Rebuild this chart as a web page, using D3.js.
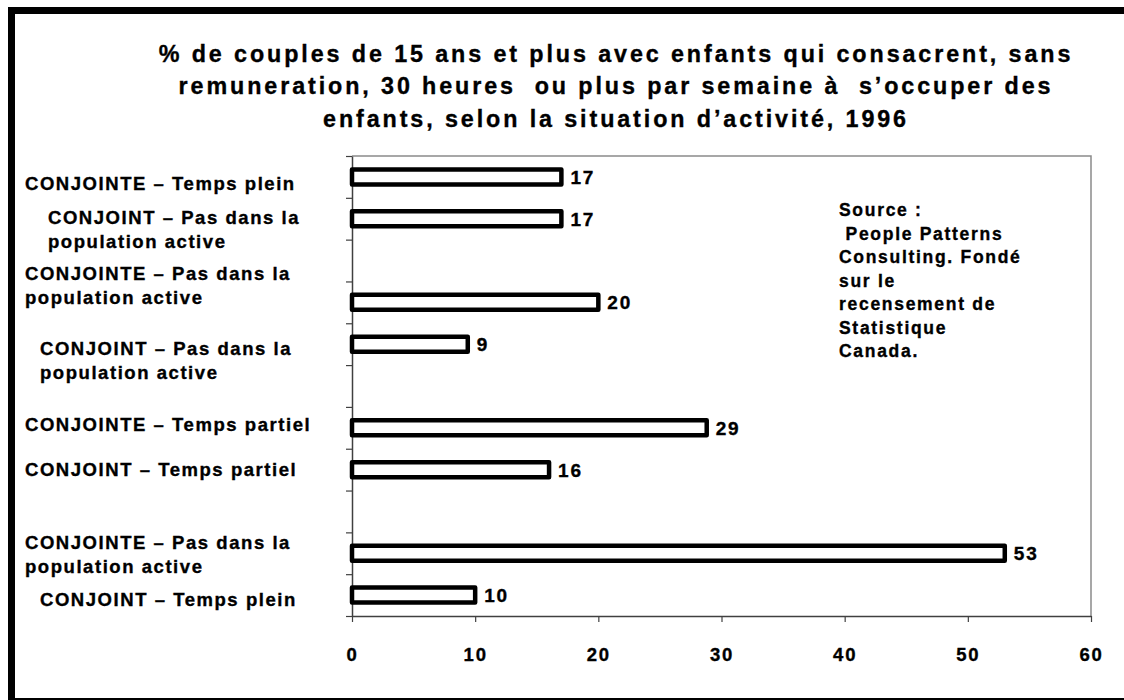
<!DOCTYPE html>
<html>
<head>
<meta charset="utf-8">
<script src="https://cdn.jsdelivr.net/npm/d3@7"></script>
<style>
	body { margin: 0; background: #fff; }
	svg text { font-family: "Liberation Sans", Arial, sans-serif; font-weight: bold; fill: #000; stroke: #000; stroke-width: 0.35px; white-space: pre; }
	.title { font-size: 23.3px; letter-spacing: 2.9px; }
	.cat { font-size: 18.5px; letter-spacing: 1.55px; }
	.value { font-size: 19px; letter-spacing: 1.8px; }
	.source { font-size: 17.5px; letter-spacing: 1.7px; }
	.x.axis text { font-size: 18.5px; letter-spacing: 1.8px; font-weight: bold; font-family: "Liberation Sans", Arial, sans-serif; }
</style>
</head>
<body>
<div id="chartDiv"></div>
<script>

/*
Data
*/
var titleLines = [
	"% de couples de 15 ans et plus avec enfants qui consacrent, sans",
	"remuneration, 30 heures  ou plus par semaine à  s’occuper des",
	"enfants, selon la situation d’activité, 1996"
];

var categories = [
	"CONJOINTE – Temps plein",
	"CONJOINT – Pas dans la|population active",
	"CONJOINTE – Pas dans la|population active",
	"CONJOINT – Pas dans la|population active",
	"CONJOINTE – Temps partiel",
	"CONJOINT – Temps partiel",
	"CONJOINTE – Pas dans la|population active",
	"CONJOINT – Temps plein"
];

var values = [17, 17, 20, 9.4, 28.8, 16, 53, 10];

// an empty row follows these bars
var gapAfter = [1, 3, 5];

var xTicks = [0, 10, 20, 30, 40, 50, 60];

var sourceLines = [
	"Source :",
	" People Patterns",
	"Consulting. Fondé",
	"sur le",
	"recensement de",
	"Statistique",
	"Canada."
];

/*
Layout
*/
var width = 1124,
	height = 700;

var plot = { left: 352, right: 1091, top: 156, bottom: 616 };

// hand placed text boxes for the category labels
var labelIndent = [25, 48, 25, 40, 25, 25, 25, 40];
var labelShift = [13, 5, -22, 11, 3, 6.5, -4, 11];
var labelLineHeight = 24;

var barHeight = 15;

/*
Rows: one per bar, plus the empty ones
*/
var rowOfBar = [];
var r = 0;
values.forEach(function(v, i) {
	rowOfBar.push(r);
	r++;
	if (gapAfter.indexOf(i) >= 0) r++;
});
var nRows = r;

var bars = values.map(function(v, i) {
	return { value: v, label: categories[i], row: rowOfBar[i], index: i };
});

/*
Create svg
*/
var svg = d3.select("#chartDiv").append("svg")
	.attr("width", width)
	.attr("height", height);

// Thick outer frame
svg.append("rect")
	.attr("x", 11.5)
	.attr("y", 10.5)
	.attr("width", 1125)
	.attr("height", 691)
	.attr("fill", "#fff")
	.attr("stroke", "#000")
	.attr("stroke-width", 7);

/*
Title
*/
svg.append("g").selectAll("text")
	.data(titleLines)
	.enter().append("text")
	.attr("class", "title")
	.attr("text-anchor", "middle")
	.attr("x", 616)
	.attr("y", function(d, i) { return 62 + i * 32.3; })
	.text(function(d) { return d; });

/*
Scales
*/
var xScale = d3.scaleLinear()
	.domain([0, 60])
	.range([plot.left, plot.right]);

var yScale = d3.scaleBand()
	.domain(d3.range(nRows))
	.range([plot.top, plot.bottom]);

// linear version of the row scale, for the tick marks between rows
var yTickScale = d3.scaleLinear()
	.domain([0, nRows])
	.range([plot.top, plot.bottom]);

function rowCenter(d) { return yScale(d.row) + yScale.bandwidth() / 2; }

/*
Plot border (gray top and right)
*/
svg.append("path")
	.attr("d", "M" + plot.left + "," + plot.top + "H" + plot.right + "V" + plot.bottom)
	.attr("fill", "none")
	.attr("stroke", "#8a8a8a")
	.attr("stroke-width", 1.5);

/*
Axes
*/
var xAxis = d3.axisBottom(xScale)
	.tickValues(xTicks)
	.tickSize(6)
	.tickPadding(26)
	.tickSizeOuter(0);

var gXAxis = svg.append("g")
	.attr("class", "x axis")
	.attr("transform", "translate(0," + plot.bottom + ")")
	.call(xAxis);

gXAxis.select(".domain").attr("stroke", "#404040").attr("stroke-width", 1.5);
gXAxis.selectAll(".tick line").attr("stroke", "#404040").attr("stroke-width", 1.2);
gXAxis.selectAll(".tick text").attr("fill", "#000");

var yAxis = d3.axisLeft(yTickScale)
	.tickValues(d3.range(nRows + 1))
	.tickFormat("")
	.tickSize(6)
	.tickSizeOuter(0);

var gYAxis = svg.append("g")
	.attr("class", "y axis")
	.attr("transform", "translate(" + plot.left + ",0)")
	.call(yAxis);

gYAxis.select(".domain").attr("stroke", "#404040").attr("stroke-width", 1.5);
gYAxis.selectAll(".tick line").attr("stroke", "#404040").attr("stroke-width", 1.2);

/*
Bars
*/
svg.append("g").selectAll("rect")
	.data(bars)
	.enter().append("rect")
	.attr("x", xScale(0))
	.attr("y", function(d) { return rowCenter(d) - barHeight / 2; })
	.attr("width", function(d) { return xScale(d.value) - xScale(0); })
	.attr("height", barHeight)
	.attr("fill", "#fff")
	.attr("stroke", "#000")
	.attr("stroke-width", 4.5)
	.attr("stroke-linejoin", "round");

// Value labels
svg.append("g").selectAll("text")
	.data(bars)
	.enter().append("text")
	.attr("class", "value")
	.attr("x", function(d) { return xScale(d.value) + 9; })
	.attr("y", rowCenter)
	.attr("dy", "0.37em")
	.text(function(d) { return Math.round(d.value); });

/*
Category labels
*/
var catText = svg.append("g").selectAll("text")
	.data(bars)
	.enter().append("text")
	.attr("class", "cat")
	.attr("x", function(d) { return labelIndent[d.index]; })
	.attr("y", function(d) { return rowCenter(d) + labelShift[d.index]; });

catText.selectAll("tspan")
	.data(function(d) {
		var x = labelIndent[d.index];
		return d.label.split("|").map(function(t) { return { text: t, x: x }; });
	})
	.enter().append("tspan")
	.attr("x", function(d) { return d.x; })
	.attr("dy", function(d, i) { return i === 0 ? 0 : labelLineHeight; })
	.text(function(d) { return d.text; });

/*
Source note
*/
svg.append("g").selectAll("text")
	.data(sourceLines)
	.enter().append("text")
	.attr("class", "source")
	.attr("x", 839)
	.attr("y", function(d, i) { return 216 + i * 23.5; })
	.text(function(d) { return d; });

</script>
</body>
</html>
